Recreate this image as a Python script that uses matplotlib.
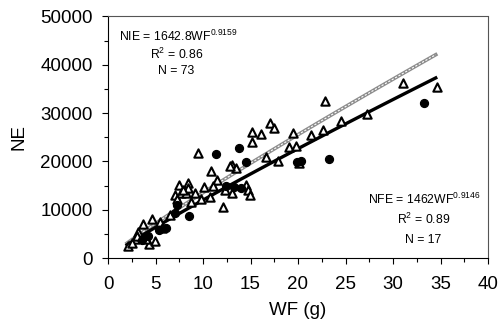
import numpy as np
import matplotlib
matplotlib.use("Agg")
import matplotlib.pyplot as plt
from matplotlib.ticker import MultipleLocator

plt.rcParams['font.family'] = ['Liberation Sans', 'DejaVu Sans']
plt.rcParams['mathtext.fontset'] = 'custom'
plt.rcParams['mathtext.rm'] = 'Liberation Sans'
plt.rcParams['mathtext.default'] = 'regular'

# NIE (open triangles)
nie_wf = [2.1, 2.8, 3.2, 3.7, 4.3, 4.6, 4.9, 3.0, 2.5, 4.0, 5.5,
          7.1, 7.5, 7.7, 8.2, 8.4, 7.3, 8.4, 7.9,
          9.2, 10.1, 8.7, 9.8, 10.7, 9.5, 10.8, 11.5, 12.1, 12.3, 13.1, 13.5,
          15.2, 17.0, 17.5, 16.1, 15.2, 14.5, 14.7, 14.9, 16.6, 17.9,
          19.0, 19.5, 19.8, 20.1, 21.4, 22.6, 22.8, 24.5, 27.3, 31.0, 34.6,
          12.8, 6.5, 5.7, 11.0, 13.0]
nie_ne = [2500, 3900, 5500, 7000, 2900, 8000, 3500, 4500, 3200, 4000, 7500,
          13100, 15100, 13400, 13400, 15500, 12300, 14500, 14000,
          13400, 14800, 11700, 12200, 12700, 21800, 18100, 16200, 10600, 14100, 19300, 18700,
          26100, 28000, 27000, 25700, 24100, 15100, 14100, 13100, 21000, 20000,
          23000, 25900, 23200, 19700, 25500, 26400, 32600, 28300, 29900, 36300, 35500,
          19000, 9000, 6300, 15000, 13500]

# NFE (filled circles)
nfe_wf = [33.3, 23.3, 20.3, 14.0, 13.8, 11.4, 14.5, 12.4, 7.3, 8.5,
          6.1, 5.4, 7.1, 3.6, 4.2, 13.3, 19.9]
nfe_ne = [32000, 20500, 20000, 14500, 22800, 21500, 19900, 14900, 11000, 8700,
          6200, 5800, 9300, 3700, 4500, 14700, 19800]

fig = plt.figure(figsize=(5.0, 3.28), dpi=100)
ax = fig.add_axes([0.216, 0.213, 0.76, 0.737])

x = np.linspace(2, 34.5, 100)
# power-law fits
ax.plot(x, 1642.8 * x ** 0.9159, color='#8c8c8c', lw=2.6, zorder=2)
ax.plot(x, 1642.8 * x ** 0.9159, color='white', lw=0.8, ls=(0, (2, 1.5)), zorder=2)
ax.plot(x, 1462 * x ** 0.9146, color='black', lw=2.4, zorder=2)

ax.scatter(nie_wf, nie_ne, marker='^', s=36, facecolors='white',
           edgecolors='black', linewidths=1.5, zorder=3)
ax.scatter(nfe_wf, nfe_ne, marker='o', s=32, color='black', zorder=4)

ax.set_xlim(0, 40)
ax.set_ylim(0, 50000)
ax.xaxis.set_major_locator(MultipleLocator(5))
ax.xaxis.set_minor_locator(MultipleLocator(2.5))
ax.yaxis.set_major_locator(MultipleLocator(10000))
ax.yaxis.set_minor_locator(MultipleLocator(5000))
ax.tick_params(which='both', direction='out', length=4, width=0.8, labelsize=13.5)
ax.tick_params(which='minor', length=3)
ax.tick_params(axis='x', which='major', pad=9)
ax.tick_params(axis='y', which='major', pad=7)

for s in ['top', 'right']:
    ax.spines[s].set_linestyle((0, (1, 1)))
    ax.spines[s].set_linewidth(0.8)
    ax.spines[s].set_color('#555555')

ax.set_xlabel('WF (g)', fontsize=13.5, labelpad=6)
ax.set_ylabel('NE', fontsize=13.5, labelpad=9)

ax.text(0.03, 0.95, r'NIE = 1642.8WF$^{0.9159}$', transform=ax.transAxes,
        fontsize=8.8, ha='left', va='top')
ax.text(0.18, 0.875, r'R$^{2}$ = 0.86', transform=ax.transAxes,
        fontsize=8.8, ha='center', va='top')
ax.text(0.18, 0.80, 'N = 73', transform=ax.transAxes,
        fontsize=8.8, ha='center', va='top')

ax.text(0.98, 0.275, r'NFE = 1462WF$^{0.9146}$', transform=ax.transAxes,
        fontsize=8.8, ha='right', va='top')
ax.text(0.83, 0.19, r'R$^{2}$ = 0.89', transform=ax.transAxes,
        fontsize=8.8, ha='center', va='top')
ax.text(0.83, 0.10, 'N = 17', transform=ax.transAxes,
        fontsize=8.8, ha='center', va='top')

fig.savefig('out.png', dpi=100)
